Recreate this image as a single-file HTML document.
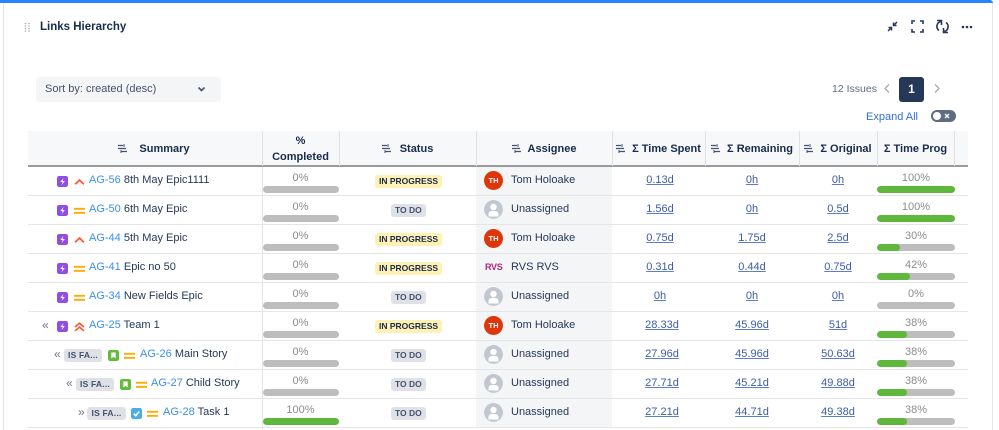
<!DOCTYPE html>
<html><head><meta charset="utf-8"><style>
*{margin:0;padding:0;box-sizing:border-box}
body{width:999px;height:430px;overflow:hidden;background:#fff;font-family:"Liberation Sans",Arial,sans-serif;color:#172b4d;position:relative}
.a{position:absolute}
.hd{position:absolute;top:131px;height:35px;font-size:11px;font-weight:bold;color:#172b4d;display:flex;align-items:center;justify-content:center;white-space:nowrap}
.vs{position:absolute;top:131px;height:35px;width:1px;background:#dfe1e6}
.row{position:absolute;left:0;width:999px;height:29px}
.sep{position:absolute;left:28px;width:940px;height:1px;background:#e4e5e7}
.t{position:absolute;top:0;line-height:29px;font-size:11px;white-space:nowrap;color:#253858}
.k{color:#3b8ef0}
.ic{position:absolute;top:10px;width:11px;height:11px}
.pc{position:absolute;top:5px;line-height:14px;font-size:11px;color:#8c8c8c;text-align:center}
.bar{position:absolute;top:20px;height:7px;border-radius:4px;background:#bdbdbd;overflow:hidden}
.bar i{display:block;height:7px;background:#5fb83c;border-radius:4px}
.st{position:absolute;top:9px;height:13px;line-height:13px;font-size:8.5px;font-weight:bold;padding:0 4px;border-radius:3px}
.ip{background:#fff0b3;color:#172b4d}
.td{background:#dfe1e6;color:#42526e}
.asg{position:absolute;left:476px;width:136px;top:1px;height:28px;background:#f4f5f7}
.av{position:absolute;left:484px;top:5px;width:19px;height:19px;border-radius:50%}
.th{background:#de350b;color:#fff;font-size:7.5px;font-weight:bold;text-align:center;line-height:19px}
.nm{position:absolute;left:511px;top:0;line-height:29px;font-size:11px;color:#253858}
.tv{position:absolute;top:0;line-height:29px;font-size:11px;white-space:nowrap;transform:translateX(-50%);color:#3c5ca6;text-decoration:underline;text-decoration-color:#5a7fd0}
.lz{position:absolute;top:9px;height:13px;line-height:13px;font-size:8.5px;font-weight:bold;background:#dfe1e6;color:#42526e;border-radius:3px;text-align:center;letter-spacing:.2px}
.ch{position:absolute;top:0;line-height:28px;font-size:12px;color:#6b778c}
</style></head><body>

<!-- card frame -->
<div class="a" style="left:0;top:0;width:993px;height:3px;background:#2684ff;border-top-right-radius:3px"></div>
<div class="a" style="left:3px;top:3px;width:1px;height:427px;background:#e2e4e8"></div>
<div class="a" style="left:992px;top:3px;width:1px;height:427px;background:#e2e4e8"></div>

<!-- drag handle -->
<svg class="a" style="left:24px;top:22px" width="7" height="10">
<g fill="#a5adba"><circle cx="1.5" cy="1.5" r=".8"/><circle cx="5" cy="1.5" r=".8"/><circle cx="1.5" cy="4" r=".8"/><circle cx="5" cy="4" r=".8"/><circle cx="1.5" cy="6.5" r=".8"/><circle cx="5" cy="6.5" r=".8"/><circle cx="1.5" cy="9" r=".8"/><circle cx="5" cy="9" r=".8"/></g></svg>
<div class="a" style="left:40px;top:19px;font-size:11.5px;font-weight:bold;color:#172b4d;line-height:16px">Links Hierarchy</div>

<!-- top right icons -->
<svg class="a" style="left:886px;top:20px" width="13" height="13" fill="none" stroke="#253858" stroke-width="1.5">
<path d="M2 11l3.5-3.5M2.5 7.5h3v3"/><path d="M11 2L7.5 5.5M7.5 2.5v3h3"/></svg>
<svg class="a" style="left:911px;top:20px" width="13" height="13" fill="none" stroke="#253858" stroke-width="1.6">
<path d="M1 4V1h3M9 1h3v3M12 9v3H9M4 12H1V9"/></svg>
<svg class="a" style="left:935px;top:19px" width="15" height="15" fill="none" stroke="#253858" stroke-width="1.6">
<path d="M6 2.5A5 5 0 0 0 4 11.5"/><path d="M2 1.5h4.5V6"/><path d="M9 12.5A5 5 0 0 0 11 3.5"/><path d="M13 13.5H8.5V9"/></svg>
<svg class="a" style="left:961px;top:25px" width="12" height="4" fill="#253858"><circle cx="2" cy="2" r="1.3"/><circle cx="6" cy="2" r="1.3"/><circle cx="10" cy="2" r="1.3"/></svg>

<!-- sort dropdown -->
<div class="a" style="left:36px;top:77px;width:185px;height:25px;background:#f4f5f7;border-radius:3px"></div>
<div class="a" style="left:45px;top:77px;line-height:25px;font-size:11px;color:#42526e">Sort by: created (desc)</div>
<svg class="a" style="left:197px;top:86px" width="9" height="7" fill="none" stroke="#42526e" stroke-width="1.6"><path d="M1.5 1.5l3 3 3-3"/></svg>

<!-- pagination -->
<div class="a" style="left:832px;top:81px;font-size:10.5px;line-height:16px;color:#5e6c84">12 Issues</div>
<svg class="a" style="left:883px;top:83px" width="8" height="11" fill="none" stroke="#a5adba" stroke-width="1.4"><path d="M6 1.5L2 5.5l4 4"/></svg>
<div class="a" style="left:899px;top:77px;width:25px;height:25px;background:#253858;border-radius:3px;color:#fff;font-size:12px;font-weight:bold;text-align:center;line-height:25px">1</div>
<svg class="a" style="left:933px;top:83px" width="8" height="11" fill="none" stroke="#a5adba" stroke-width="1.4"><path d="M2 1.5l4 4-4 4"/></svg>

<div class="a" style="left:866px;top:109px;font-size:11px;line-height:16px;color:#2f6fd8">Expand All</div>
<div class="a" style="left:931px;top:110px;width:25px;height:12px;border-radius:6px;background:#5e6c84"></div>
<div class="a" style="left:933px;top:112px;width:8px;height:8px;border-radius:50%;background:#fff"></div>
<svg class="a" style="left:944px;top:113px" width="6" height="6" stroke="#fff" stroke-width="1.3"><path d="M1 1l4 4M5 1L1 5"/></svg>

<!-- header -->
<div class="a" style="left:28px;top:131px;width:940px;height:35px;background:#f7f8f9"></div>
<div class="a" style="left:28px;top:165px;width:940px;height:2px;background:#9a9a9a"></div>
<div class="vs" style="left:262px"></div><div class="vs" style="left:339px"></div><div class="vs" style="left:476px"></div><div class="vs" style="left:612px"></div><div class="vs" style="left:705px"></div><div class="vs" style="left:799px"></div><div class="vs" style="left:877px"></div><div class="vs" style="left:954px"></div>

<svg width="0" height="0" style="position:absolute"><defs>
<g id="so"><path d="M0 1.5h5M0 4.5h8M3 7.5h6" stroke="#42526e" stroke-width="1.2"/><path d="M6 0v3M3 6v3" stroke="#42526e" stroke-width="1"/></g>
</defs></svg>

<div class="hd" style="left:28px;width:234px;padding-left:18px"><svg width="10" height="9" style="margin-right:11px"><use href="#so"/></svg>Summary</div>
<div class="hd" style="left:262px;width:77px;flex-direction:column;line-height:16px;padding-top:1px"><span>%</span><span>Completed</span></div>
<div class="hd" style="left:339px;width:137px"><svg width="10" height="9" style="margin-right:8px"><use href="#so"/></svg>Status</div>
<div class="hd" style="left:476px;width:136px"><svg width="10" height="9" style="margin-right:6px"><use href="#so"/></svg>Assignee</div>
<div class="hd" style="left:612px;width:93px"><svg width="10" height="9" style="margin-right:6px"><use href="#so"/></svg>Σ Time Spent</div>
<div class="hd" style="left:705px;width:94px"><svg width="10" height="9" style="margin-right:6px"><use href="#so"/></svg>Σ Remaining</div>
<div class="hd" style="left:799px;width:78px"><svg width="10" height="9" style="margin-right:6px"><use href="#so"/></svg>Σ Original</div>
<div class="hd" style="left:877px;width:77px">Σ Time Prog</div>

<!-- body vertical line -->
<div class="a" style="left:262px;top:167px;width:1px;height:263px;background:#e4e5e7"></div>

<!-- separators -->
<div class="sep" style="top:195px"></div><div class="sep" style="top:224px"></div><div class="sep" style="top:253px"></div><div class="sep" style="top:282px"></div><div class="sep" style="top:311px"></div><div class="sep" style="top:340px"></div><div class="sep" style="top:369px"></div><div class="sep" style="top:398px"></div><div class="sep" style="top:427px"></div>

<svg width="0" height="0" style="position:absolute"><defs>
<g id="epic"><rect width="10" height="10" rx="2" fill="#904ee2"/><path d="M5.9 1.8L3 5.5h2.1l-.9 2.8 2.9-3.7H5z" fill="#fff"/></g>
<g id="story"><rect width="10" height="10" rx="2" fill="#63ba3c"/><path d="M3 2.3h4v5.4L5 6.2 3 7.7z" fill="#fff"/></g>
<g id="task"><rect width="10" height="10" rx="2" fill="#4bade8"/><path d="M2.5 5.2l1.8 1.8 3.2-3.8" stroke="#fff" stroke-width="1.5" fill="none"/></g>
<g id="hi"><path d="M1 7.5l4-3.8 4 3.8" stroke="#ff5630" stroke-width="1.6" fill="none"/></g>
<g id="hh"><path d="M1 5.5l4-3.5 4 3.5M1 9l4-3.5 4 3.5" stroke="#ff5630" stroke-width="1.5" fill="none"/></g>
<g id="md"><rect y="2.6" width="10" height="1.7" fill="#ffab00"/><rect y="6.3" width="10" height="1.7" fill="#ffab00"/></g>
<g id="ua"><circle cx="9.5" cy="9.5" r="9.5" fill="#c1c7d0"/><circle cx="9.5" cy="7" r="3.2" fill="#fff"/><path d="M4.5 16.5v-2.5a3 3 0 0 1 3-3h4a3 3 0 0 1 3 3v2.5z" fill="#fff"/></g>
</defs></svg>

<!-- ROW 1 -->
<div class="row" style="top:166px">
<svg class="ic" viewBox="0 0 10 10" style="left:57px"><use href="#epic"/></svg><svg class="ic" viewBox="0 0 10 10" style="left:74px"><use href="#hi"/></svg>
<div class="t" style="left:89px"><span class="k">AG-56</span> 8th May Epic1111</div>
<div class="pc" style="left:262px;width:77px">0%</div><div class="bar" style="left:263px;width:76px"></div>
<div class="st ip" style="left:375px">IN PROGRESS</div>
<div class="asg"></div><div class="av th">TH</div><div class="nm">Tom Holoake</div>
<div class="tv" style="left:660px">0.13d</div><div class="tv" style="left:752px">0h</div><div class="tv" style="left:838px">0h</div>
<div class="pc" style="left:877px;width:78px">100%</div><div class="bar" style="left:877px;width:78px"><i style="width:100%"></i></div>
</div>

<!-- ROW 2 -->
<div class="row" style="top:195px">
<svg class="ic" viewBox="0 0 10 10" style="left:57px"><use href="#epic"/></svg><svg class="ic" viewBox="0 0 10 10" style="left:74px"><use href="#md"/></svg>
<div class="t" style="left:89px"><span class="k">AG-50</span> 6th May Epic</div>
<div class="pc" style="left:262px;width:77px">0%</div><div class="bar" style="left:263px;width:76px"></div>
<div class="st td" style="left:391px">TO DO</div>
<div class="asg"></div><svg class="av" width="19" height="19"><use href="#ua"/></svg><div class="nm">Unassigned</div>
<div class="tv" style="left:660px">1.56d</div><div class="tv" style="left:752px">0h</div><div class="tv" style="left:838px">0.5d</div>
<div class="pc" style="left:877px;width:78px">100%</div><div class="bar" style="left:877px;width:78px"><i style="width:100%"></i></div>
</div>

<!-- ROW 3 -->
<div class="row" style="top:224px">
<svg class="ic" viewBox="0 0 10 10" style="left:57px"><use href="#epic"/></svg><svg class="ic" viewBox="0 0 10 10" style="left:74px"><use href="#hi"/></svg>
<div class="t" style="left:89px"><span class="k">AG-44</span> 5th May Epic</div>
<div class="pc" style="left:262px;width:77px">0%</div><div class="bar" style="left:263px;width:76px"></div>
<div class="st ip" style="left:375px">IN PROGRESS</div>
<div class="asg"></div><div class="av th">TH</div><div class="nm">Tom Holoake</div>
<div class="tv" style="left:660px">0.75d</div><div class="tv" style="left:752px">1.75d</div><div class="tv" style="left:838px">2.5d</div>
<div class="pc" style="left:877px;width:78px">30%</div><div class="bar" style="left:877px;width:78px"><i style="width:30%"></i></div>
</div>

<!-- ROW 4 -->
<div class="row" style="top:253px">
<svg class="ic" viewBox="0 0 10 10" style="left:57px"><use href="#epic"/></svg><svg class="ic" viewBox="0 0 10 10" style="left:74px"><use href="#md"/></svg>
<div class="t" style="left:89px"><span class="k">AG-41</span> Epic no 50</div>
<div class="pc" style="left:262px;width:77px">0%</div><div class="bar" style="left:263px;width:76px"></div>
<div class="st ip" style="left:375px">IN PROGRESS</div>
<div class="asg"></div><div class="a" style="left:485px;top:8px;font-size:9px;font-weight:bold;color:#b5287a;letter-spacing:-.3px;line-height:12px">RVS</div><div class="nm">RVS RVS</div>
<div class="tv" style="left:660px">0.31d</div><div class="tv" style="left:752px">0.44d</div><div class="tv" style="left:838px">0.75d</div>
<div class="pc" style="left:877px;width:78px">42%</div><div class="bar" style="left:877px;width:78px"><i style="width:42%"></i></div>
</div>

<!-- ROW 5 -->
<div class="row" style="top:282px">
<svg class="ic" viewBox="0 0 10 10" style="left:57px"><use href="#epic"/></svg><svg class="ic" viewBox="0 0 10 10" style="left:74px"><use href="#md"/></svg>
<div class="t" style="left:89px"><span class="k">AG-34</span> New Fields Epic</div>
<div class="pc" style="left:262px;width:77px">0%</div><div class="bar" style="left:263px;width:76px"></div>
<div class="st td" style="left:391px">TO DO</div>
<div class="asg"></div><svg class="av" width="19" height="19"><use href="#ua"/></svg><div class="nm">Unassigned</div>
<div class="tv" style="left:660px">0h</div><div class="tv" style="left:752px">0h</div><div class="tv" style="left:838px">0h</div>
<div class="pc" style="left:877px;width:78px">0%</div><div class="bar" style="left:877px;width:78px"></div>
</div>

<!-- ROW 6 -->
<div class="row" style="top:311px">
<div class="ch" style="left:42px">«</div>
<svg class="ic" viewBox="0 0 10 10" style="left:57px"><use href="#epic"/></svg><svg class="ic" viewBox="0 0 10 10" style="left:74px"><use href="#hh"/></svg>
<div class="t" style="left:89px"><span class="k">AG-25</span> Team 1</div>
<div class="pc" style="left:262px;width:77px">0%</div><div class="bar" style="left:263px;width:76px"></div>
<div class="st ip" style="left:375px">IN PROGRESS</div>
<div class="asg"></div><div class="av th">TH</div><div class="nm">Tom Holoake</div>
<div class="tv" style="left:662px">28.33d</div><div class="tv" style="left:752px">45.96d</div><div class="tv" style="left:838px">51d</div>
<div class="pc" style="left:877px;width:78px">38%</div><div class="bar" style="left:877px;width:78px"><i style="width:38%"></i></div>
</div>

<!-- ROW 7 -->
<div class="row" style="top:340px">
<div class="ch" style="left:54px">«</div>
<div class="lz" style="left:64px;width:38px">IS FA...</div>
<svg class="ic" viewBox="0 0 10 10" style="left:108px"><use href="#story"/></svg><svg class="ic" viewBox="0 0 10 10" style="left:124px"><use href="#md"/></svg>
<div class="t" style="left:140px"><span class="k">AG-26</span> Main Story</div>
<div class="pc" style="left:262px;width:77px">0%</div><div class="bar" style="left:263px;width:76px"></div>
<div class="st td" style="left:391px">TO DO</div>
<div class="asg"></div><svg class="av" width="19" height="19"><use href="#ua"/></svg><div class="nm">Unassigned</div>
<div class="tv" style="left:662px">27.96d</div><div class="tv" style="left:752px">45.96d</div><div class="tv" style="left:838px">50.63d</div>
<div class="pc" style="left:877px;width:78px">38%</div><div class="bar" style="left:877px;width:78px"><i style="width:38%"></i></div>
</div>

<!-- ROW 8 -->
<div class="row" style="top:369px">
<div class="ch" style="left:66px">«</div>
<div class="lz" style="left:76px;width:38px">IS FA...</div>
<svg class="ic" viewBox="0 0 10 10" style="left:120px"><use href="#story"/></svg><svg class="ic" viewBox="0 0 10 10" style="left:136px"><use href="#md"/></svg>
<div class="t" style="left:151px"><span class="k">AG-27</span> Child Story</div>
<div class="pc" style="left:262px;width:77px">0%</div><div class="bar" style="left:263px;width:76px"></div>
<div class="st td" style="left:391px">TO DO</div>
<div class="asg"></div><svg class="av" width="19" height="19"><use href="#ua"/></svg><div class="nm">Unassigned</div>
<div class="tv" style="left:662px">27.71d</div><div class="tv" style="left:752px">45.21d</div><div class="tv" style="left:838px">49.88d</div>
<div class="pc" style="left:877px;width:78px">38%</div><div class="bar" style="left:877px;width:78px"><i style="width:38%"></i></div>
</div>

<!-- ROW 9 -->
<div class="row" style="top:398px">
<div class="ch" style="left:78px">»</div>
<div class="lz" style="left:87px;width:39px">IS FA...</div>
<svg class="ic" viewBox="0 0 10 10" style="left:131px"><use href="#task"/></svg><svg class="ic" viewBox="0 0 10 10" style="left:147px"><use href="#md"/></svg>
<div class="t" style="left:163px"><span class="k">AG-28</span> Task 1</div>
<div class="pc" style="left:262px;width:77px">100%</div><div class="bar" style="left:263px;width:76px"><i style="width:100%"></i></div>
<div class="st td" style="left:391px">TO DO</div>
<div class="asg"></div><svg class="av" width="19" height="19"><use href="#ua"/></svg><div class="nm">Unassigned</div>
<div class="tv" style="left:662px">27.21d</div><div class="tv" style="left:752px">44.71d</div><div class="tv" style="left:838px">49.38d</div>
<div class="pc" style="left:877px;width:78px">38%</div><div class="bar" style="left:877px;width:78px"><i style="width:38%"></i></div>
</div>

</body></html>
